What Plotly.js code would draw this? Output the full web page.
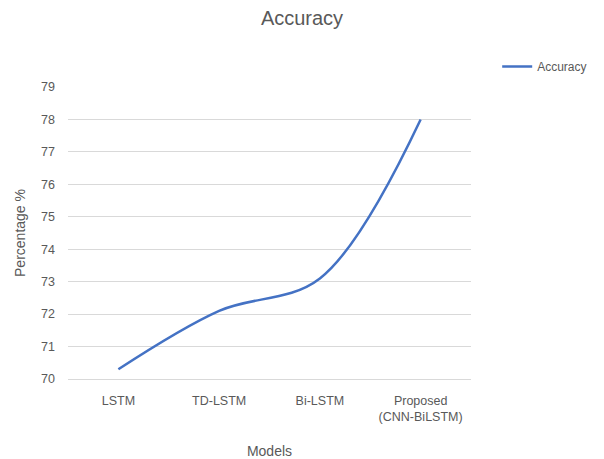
<!DOCTYPE html>
<html>
<head>
<meta charset="utf-8">
<script src="https://cdn.plot.ly/plotly-3.0.1.min.js"></script>
<style>html,body{margin:0;padding:0;background:#fff;}#chart{width:604px;height:459px;}</style>
</head>
<body>
<div id="chart"></div>
<script>
const models = ["LSTM", "TD-LSTM", "Bi-LSTM", "Proposed<br>(CNN-BiLSTM)"];
const accuracy = [70.3, 72.1, 73.1, 78.0];
const yTicks = [70, 71, 72, 73, 74, 75, 76, 77, 78, 79];

const txt = '#595959';
const fam = 'Liberation Sans, Arial, sans-serif';

Plotly.newPlot('chart', [{
  x: models,
  y: accuracy,
  type: 'scatter',
  mode: 'lines',
  name: 'Accuracy',
  line: {color: '#4472c4', width: 2.5, shape: 'spline', smoothing: 1}
}], {
  width: 604, height: 459,
  margin: {l: 68, r: 129, t: 87, b: 80},
  paper_bgcolor: '#fff', plot_bgcolor: '#fff',
  font: {family: fam, color: txt, size: 12},
  title: {text: 'Accuracy', x: 0.5, xanchor: 'center', y: 0.96, yanchor: 'middle',
          font: {size: 20, color: txt, family: fam}},
  xaxis: {
    type: 'category',
    range: [-0.5, 3.5],
    showgrid: false, zeroline: false,
    showline: true, linecolor: '#d9d9d9', linewidth: 1,
    ticks: '', ticklabelstandoff: 10,
    tickfont: {size: 12.5, color: txt},
    title: {text: 'Models', font: {size: 14, color: txt}, standoff: 22},
    fixedrange: true
  },
  yaxis: {
    range: [70, 79],
    tickvals: yTicks,
    ticktext: yTicks.map(String),
    showgrid: true, gridcolor: '#d9d9d9', gridwidth: 1,
    zeroline: false, showline: false, ticks: '',
    ticklabelstandoff: 12,
    tickfont: {size: 12.5, color: txt},
    title: {text: 'Percentage %', font: {size: 14, color: txt}, standoff: 12},
    fixedrange: true
  },
  showlegend: true,
  legend: {x: 1.065, y: 1.12, xanchor: 'left', yanchor: 'top',
           font: {size: 12, color: txt}, bgcolor: 'rgba(0,0,0,0)'}
}, {displayModeBar: false, staticPlot: true});
</script>
</body>
</html>
